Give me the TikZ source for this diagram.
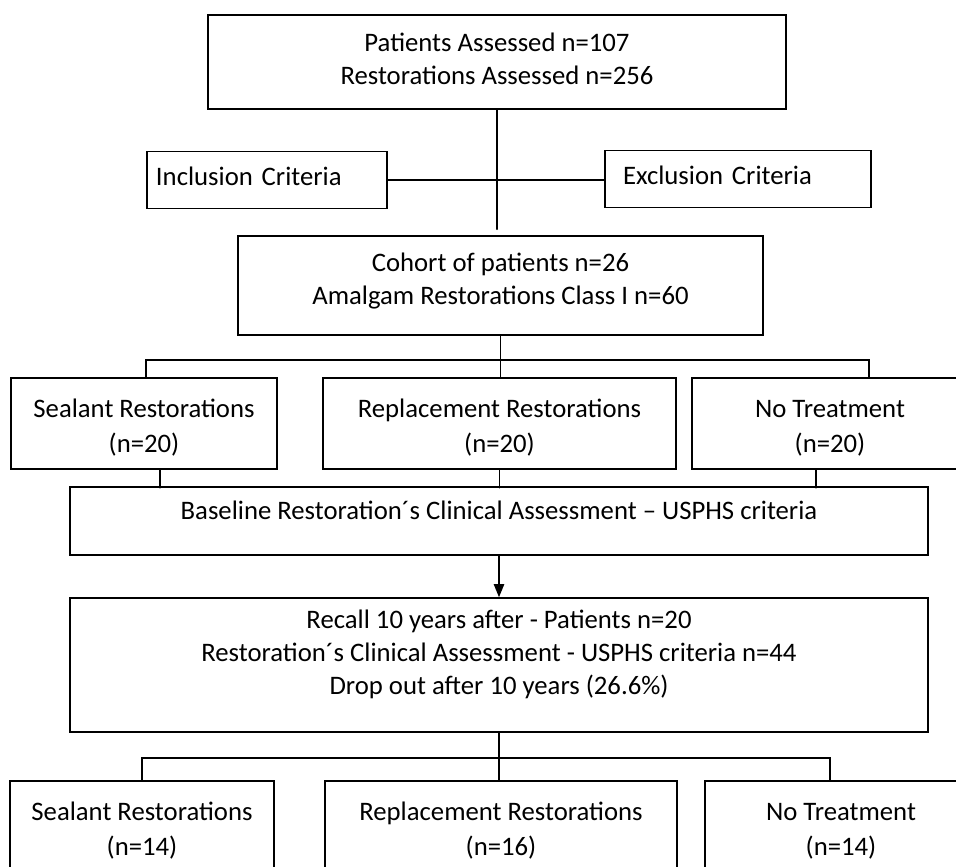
\documentclass[tikz,border=0pt]{standalone}
\usepackage{fontspec}
\setmainfont{Carlito}
\usetikzlibrary{arrows.meta,positioning,calc}

\tikzset{
  box/.style={draw,rectangle,line width=1.1pt,inner sep=0pt,align=center,
              font=\fontsize{19}{23.5}\selectfont},
  sidebox/.style={box,align=left,minimum height=14.25mm,text depth=5.7pt},
  groupbox/.style={box,minimum height=22.75mm,font=\fontsize{19}{25}\selectfont,
              text height=44pt},
  link/.style={line width=1.1pt},
}

\begin{document}
\begin{tikzpicture}[x=0.25mm,y=-0.25mm,>={Triangle[width=2.6mm,length=3.3mm]},line cap=round]
  \useasboundingbox (0,0) rectangle (956,867);
  \clip (0,0) rectangle (956,867);
  % cribado
  \node[box,minimum width=144.5mm,minimum height=23.5mm,text depth=5pt] (assessed) at (497,62)
       {Patients Assessed n=107\\Restorations Assessed n=256};
  \node[sidebox,inner xsep=2.25mm,text width=55.5mm] (incl) at (267,180)
       {Inclusion Criteria};
  \node[sidebox,inner xsep=4.5mm,text width=57.5mm] (excl) at (738,179)
       {Exclusion Criteria};
  \node[box,minimum width=131.25mm,minimum height=24.75mm,text depth=10.2pt] (cohort) at (500.5,285.5)
       {Cohort of patients n=26\\Amalgam Restorations Class I n=60};
  % grupos iniciales
  \node[groupbox,minimum width=66.5mm] (seal1) at (144,423.5)
       {Sealant Restorations\\(n=20)};
  \node[groupbox,minimum width=88.25mm] (repl1) at (499.5,423.5)
       {Replacement Restorations\\(n=20)};
  \node[groupbox,minimum width=69mm] (none1) at (830,423.5)
       {No Treatment\\(n=20)};
  \node[box,minimum width=214.5mm,minimum height=17mm,text height=13pt,text depth=15.6pt]
       (base) at (499,521)
       {Baseline Restoration´s Clinical Assessment – USPHS criteria};
  % control a 10 años
  \node[box,minimum width=214.5mm,minimum height=33.5mm,text depth=18.7pt] (recall) at (499,665)
       {Recall 10 years after - Patients n=20\\
        Restoration´s Clinical Assessment - USPHS criteria n=44\\
        Drop out after 10 years (26.6\%)};
  \node[groupbox,minimum width=66mm] (seal2) at (142,826.5)
       {Sealant Restorations\\(n=14)};
  \node[groupbox,minimum width=88mm] (repl2) at (501,826.5)
       {Replacement Restorations\\(n=16)};
  \node[groupbox,minimum width=68mm] (none2) at (841,826.5)
       {No Treatment\\(n=14)};

  % conectores
  \coordinate (gap) at ($(assessed.south |- cohort.north)+(0,-6)$);
  \draw[link] (assessed.south) -- (gap);
  \draw[link] (incl.east) -- (incl.east -| excl.west);
  \draw[link] (cohort.south) -- (cohort.south |- repl1.north);
  \coordinate (splitL) at (146,360);
  \coordinate (splitR) at (869,360);
  \draw[link] (splitL |- seal1.north) -- (splitL) -- (splitR) -- (splitR |- none1.north);
  \foreach \b/\dx in {seal1/16,repl1/0,none1/-14}{
    \draw[link] (\b.south) ++(\dx,0) -- ++(0,18);
  }
  \draw[link,->] (base.south) -- (recall.north);
  \draw[link] (recall.south) -- (recall.south |- repl2.north);
  \coordinate (joinL) at (142,758);
  \coordinate (joinR) at (830,758);
  \draw[link] (joinL |- seal2.north) -- (joinL) -- (joinR) -- (joinR |- none2.north);
\end{tikzpicture}
\end{document}
